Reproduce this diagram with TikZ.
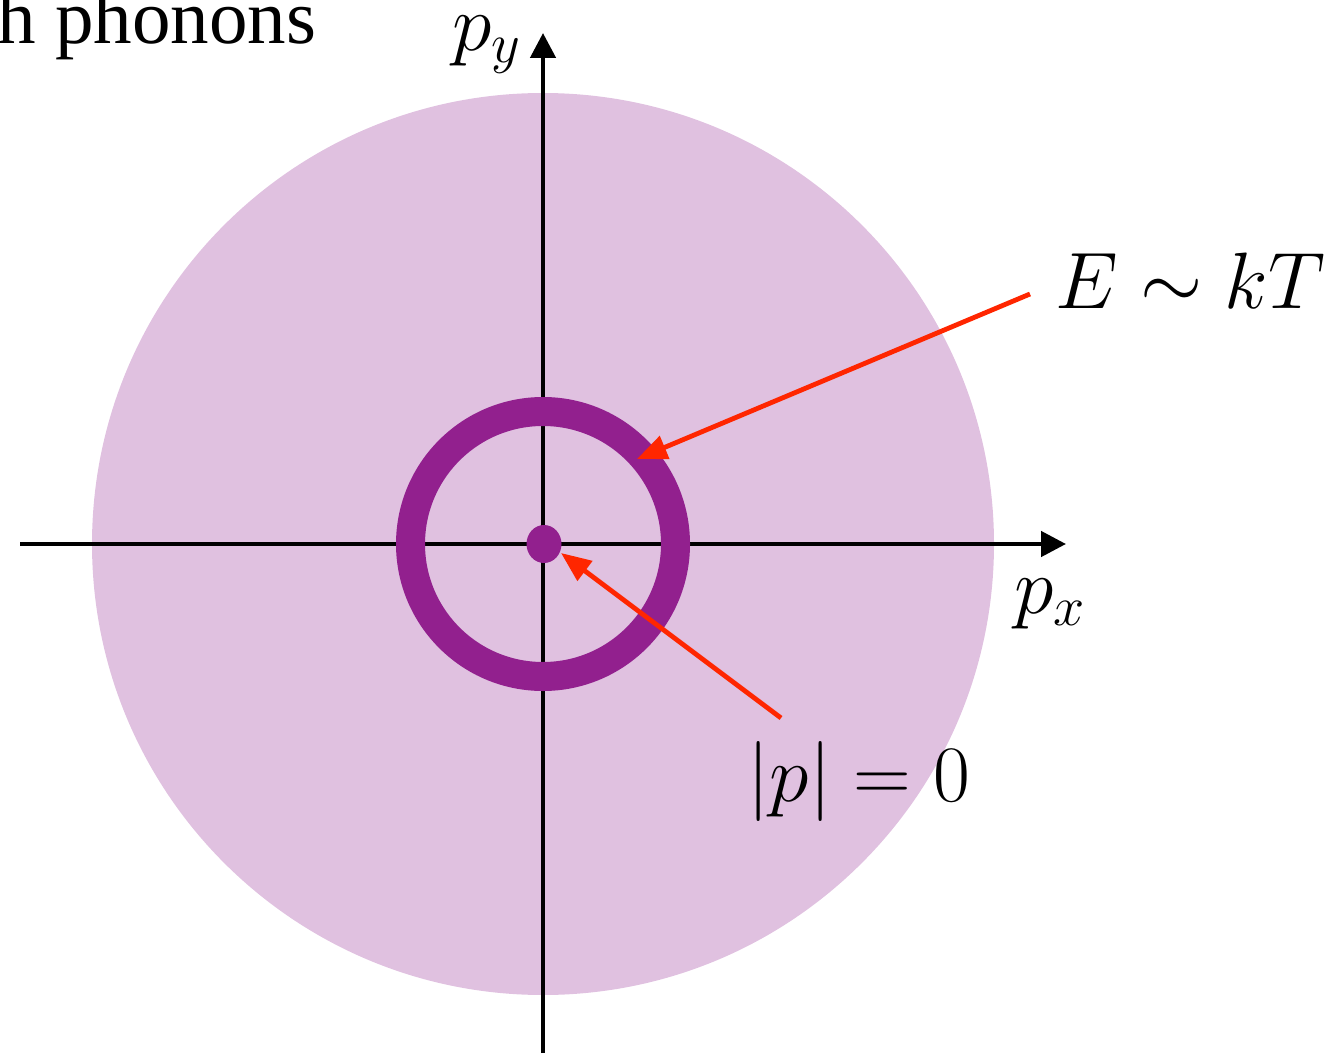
\RequirePackage{fix-cm}
\documentclass[tikz,border=0pt]{standalone}
\usepackage{fontspec}
\newfontfamily\timesfont{Liberation Serif}
\usetikzlibrary{arrows.meta}
\definecolor{lightpurple}{RGB}{224,193,224}
\definecolor{darkpurple}{RGB}{146,32,142}
\definecolor{redarrow}{RGB}{255,38,0}
\tikzset{
  axis/.style={line width=2.3pt, -{Triangle[length=12.5pt,width=12.5pt]}},
  pointer/.style={redarrow, line width=2.4pt, -{Triangle[length=15pt,width=12pt]}},
  mathlabel/.style={inner sep=0pt, font=\fontsize{40}{44}\selectfont},
}
\begin{document}
\begin{tikzpicture}[x=0.5pt,y=-0.5pt]
\useasboundingbox (0,0) rectangle (1336,1058);
% big disc
\fill[lightpurple] (543,544) circle[radius=451];
% axes
\coordinate (xl) at (20,544);
\coordinate (xr) at (1066,544);
\coordinate (yb) at (543,1053);
\coordinate (yt) at (543,33);
\draw[axis] (xl) -- (xr);
\draw[axis] (yb) -- (yt);
% ring and centre dot
\draw[darkpurple, line width=14.5pt] (543,544) circle[radius=132.5];
\fill[darkpurple] (544,544) ellipse[x radius=17.5, y radius=19];
\coordinate (ringpt) at (637,459);
\coordinate (dotpt) at (561,553);
% labels
\node[mathlabel] (py) at (487,45) {$p_y$};
\node[mathlabel] (px) at (1050,604) {$p_x$};
\node[mathlabel, anchor=west] (ekt) at (1055,281) {$E\sim kT$};
\node[mathlabel] (p0) at (859,781) {$|p|=0$};
\node[inner sep=0pt, anchor=base west, font=\timesfont\fontsize{38.5}{42}\selectfont] (title) at (-3,44) {h phonons};
% pointers
\coordinate (s1) at (1030,294);
\coordinate (s2) at (781,718);
\draw[pointer] (s1) -- (ringpt);
\draw[pointer] (s2) -- (dotpt);
\end{tikzpicture}
\end{document}
